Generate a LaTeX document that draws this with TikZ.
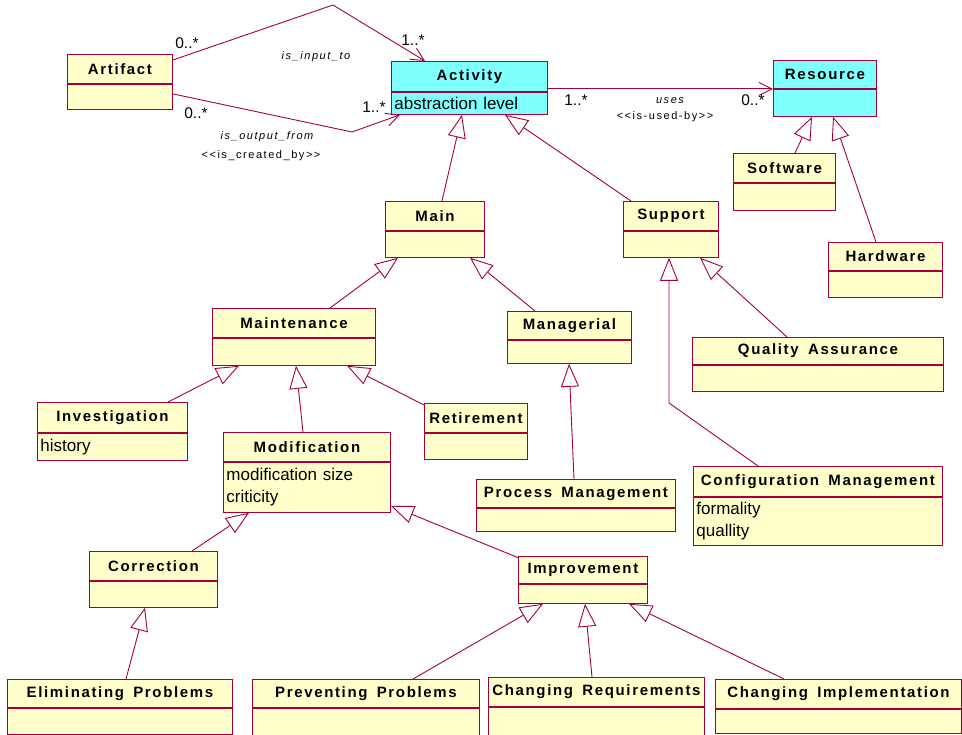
\documentclass[tikz,border=0pt]{standalone}
\usepackage{fontspec}
\setmainfont{Liberation Sans}
\newfontfamily\clsfont{Liberation Sans}[LetterSpace=11, WordSpace=1.6]
\newfontfamily\rolefont{Liberation Sans}[LetterSpace=14]
\usetikzlibrary{arrows.meta, positioning}
\definecolor{umlred}{RGB}{165, 0, 60}
\definecolor{umlyellow}{RGB}{255, 255, 204}
\definecolor{umlcyan}{RGB}{128, 255, 255}

\tikzset{
  cls/.style={draw=umlred, line width=0.9pt, fill=umlyellow, inner sep=0pt},
  ttl/.style={cls, anchor=north west, font={\clsfont\bfseries\fontsize{15}{17}\selectfont}},
  bdy/.style={cls, inner xsep=3pt, align=left, font={\fontsize{17}{21.5}\selectfont}},
  gen/.style={draw=umlred, line width=0.9pt, -{Triangle[open, length=23pt, width=18pt, fill=white]}},
  assoc/.style={draw=umlred, line width=0.9pt, -{Straight Barb[length=13pt, width=13pt]}},
  mult/.style={font={\fontsize{15.5}{18}\selectfont}},
  role/.style={font={\rolefont\fontsize{11}{13}\selectfont}},
}

\begin{document}
\begin{tikzpicture}[x=1pt, y=-1pt]
  \useasboundingbox (0,0) rectangle (962,735);

  % Klassen oben
  \node[ttl, minimum width=105, minimum height=29] (art) at (67,54) {Artifact};
  \node[bdy, below=0pt of art, minimum width=105, minimum height=25] (art-b) {};

  \node[ttl, fill=umlcyan, minimum width=156, minimum height=30] (act) at (391,61) {Activity};
  \node[bdy, fill=umlcyan, below=0pt of act, minimum width=156, minimum height=22, text width=150] (act-b) {abstraction level};

  \node[ttl, fill=umlcyan, minimum width=103, minimum height=28] (res) at (773,60) {Resource};
  \node[bdy, fill=umlcyan, below=0pt of res, minimum width=103, minimum height=27] (res-b) {};

  \node[ttl, minimum width=102, minimum height=29] (sw) at (733,153) {Software};
  \node[bdy, below=0pt of sw, minimum width=102, minimum height=27] (sw-b) {};

  \node[ttl, minimum width=114, minimum height=28] (hw) at (828,242) {Hardware};
  \node[bdy, below=0pt of hw, minimum width=114, minimum height=26] (hw-b) {};

  % Main / Support
  \node[ttl, minimum width=99, minimum height=29] (main) at (385,201) {Main};
  \node[bdy, below=0pt of main, minimum width=99, minimum height=26] (main-b) {};

  \node[ttl, minimum width=95, minimum height=29] (sup) at (623,201) {Support};
  \node[bdy, below=0pt of sup, minimum width=95, minimum height=26] (sup-b) {};

  \node[ttl, minimum width=163, minimum height=29] (mnt) at (212,308) {Maintenance};
  \node[bdy, below=0pt of mnt, minimum width=163, minimum height=27] (mnt-b) {};

  \node[ttl, minimum width=124, minimum height=28] (mgr) at (507,311) {Managerial};
  \node[bdy, below=0pt of mgr, minimum width=124, minimum height=23] (mgr-b) {};

  \node[ttl, minimum width=251, minimum height=27] (qa) at (692,337) {Quality Assurance};
  \node[bdy, below=0pt of qa, minimum width=251, minimum height=26] (qa-b) {};

  % Wartung
  \node[ttl, minimum width=150, minimum height=30] (inv) at (37,402) {Investigation};
  \node[bdy, below=0pt of inv, minimum width=150, minimum height=27, text width=144] (inv-b) {history};

  \node[ttl, minimum width=103, minimum height=29] (ret) at (424,403) {Retirement};
  \node[bdy, below=0pt of ret, minimum width=103, minimum height=26] (ret-b) {};

  \node[ttl, minimum width=167, minimum height=29] (mod) at (223,432) {Modification};
  \node[bdy, below=0pt of mod, minimum width=167, minimum height=50, text width=161] (mod-b) {modification size\\criticity};

  \node[ttl, minimum width=199, minimum height=28] (pm) at (476,479) {Process Management};
  \node[bdy, below=0pt of pm, minimum width=199, minimum height=23] (pm-b) {};

  \node[ttl, minimum width=249, minimum height=30] (cfg) at (693,466) {Configuration Management};
  \node[bdy, below=0pt of cfg, minimum width=249, minimum height=48, text width=243] (cfg-b) {formality\\quallity};

  \node[ttl, minimum width=128, minimum height=29] (cor) at (89,551) {Correction};
  \node[bdy, below=0pt of cor, minimum width=128, minimum height=26] (cor-b) {};

  \node[ttl, minimum width=129, minimum height=27] (imp) at (518,556) {Improvement};
  \node[bdy, below=0pt of imp, minimum width=129, minimum height=19] (imp-b) {};

  % unterste Reihe
  \node[ttl, minimum width=225, minimum height=28] (elim) at (7,679) {Eliminating Problems};
  \node[bdy, below=0pt of elim, minimum width=225, minimum height=26] (elim-b) {};

  \node[ttl, minimum width=227, minimum height=28] (prev) at (252,679) {Preventing Problems};
  \node[bdy, below=0pt of prev, minimum width=227, minimum height=27] (prev-b) {};

  \node[ttl, minimum width=216, minimum height=29] (creq) at (488,677) {Changing Requirements};
  \node[bdy, below=0pt of creq, minimum width=216, minimum height=28] (creq-b) {};

  \node[ttl, minimum width=246, minimum height=29] (cimp) at (715,679) {Changing Implementation};
  \node[bdy, below=0pt of cimp, minimum width=246, minimum height=24] (cimp-b) {};

  % Assoziationen
  \coordinate (inbend) at (333,5);
  \coordinate (outbend) at (352,132);
  \draw[assoc] ([yshift=-6pt]art.north east) -- (inbend) -- ([xshift=34pt]act.north west);
  \draw[assoc] ([yshift=-10pt]art-b.north east) -- (outbend) -- ([xshift=9pt]act-b.south west);
  \draw[assoc] ([yshift=3pt]act.south east) -- (res.south west);

  \node[mult] (m1) at (187,43) {0..*};
  \node[mult] (m2) at (413,40) {1..*};
  \node[mult] (m3) at (196,113) {0..*};
  \node[mult] (m4) at (374,107) {1..*};
  \node[mult] (m5) at (576,100) {1..*};
  \node[mult] (m6) at (753,100) {0..*};
  \node[role, font={\rolefont\itshape\fontsize{11}{13}\selectfont}] (r1) at (316,57) {is\_input\_to};
  \node[role, font={\rolefont\itshape\fontsize{11}{13}\selectfont}] (r2) at (267,137) {is\_output\_from};
  \node[role] (r3) at (261,156) {<{}<is\_created\_by>{}>};
  \node[role, font={\rolefont\itshape\fontsize{11}{13}\selectfont}] (r4) at (670,101) {uses};
  \node[role] (r5) at (665,117) {<{}<is-used-by>{}>};

  % Generalisierungen
  \draw[gen] ([xshift=57pt]main.north west) -- ([xshift=71pt]act-b.south west);
  \draw[gen] ([xshift=8pt]sup.north west) -- ([xshift=114pt]act-b.south west);
  \draw[gen] ([xshift=62pt]sw.north west) -- ([xshift=39pt]res-b.south west);
  \draw[gen] ([xshift=48pt]hw.north west) -- ([xshift=60pt]res-b.south west);
  \draw[gen] ([xshift=118pt]mnt.north west) -- ([xshift=13pt]main-b.south west);
  \draw[gen] ([xshift=28pt]mgr.north west) -- ([xshift=85pt]main-b.south west);
  \draw[gen] ([xshift=95pt]qa.north west) -- ([xshift=77pt]sup-b.south west);
  \coordinate (cfgbend) at (669,403);
  \draw[gen] ([xshift=65pt]cfg.north west) -- (cfgbend) -- ([xshift=46pt]sup-b.south west);
  \draw[gen] ([xshift=131pt]inv.north west) -- ([xshift=27pt]mnt-b.south west);
  \draw[gen] ([xshift=80pt]mod.north west) -- ([xshift=84pt]mnt-b.south west);
  \draw[gen] ([yshift=-2pt]ret.north west) -- ([xshift=135pt]mnt-b.south west);
  \draw[gen] ([xshift=98pt]pm.north west) -- ([xshift=62pt]mgr-b.south west);
  \draw[gen] ([xshift=103pt]cor.north west) -- ([xshift=26pt]mod-b.south west);
  \draw[gen] ([shift={(1pt,-2pt)}]imp.north west) -- ([yshift=7pt]mod-b.south east);
  \draw[gen] ([xshift=119pt]elim.north west) -- ([xshift=56pt]cor-b.south west);
  \draw[gen] ([xshift=161pt]prev.north west) -- ([xshift=25pt]imp-b.south west);
  \draw[gen] ([xshift=104pt]creq.north west) -- ([xshift=67pt]imp-b.south west);
  \draw[gen] ([xshift=69pt]cimp.north west) -- ([xshift=111pt]imp-b.south west);

\end{tikzpicture}
\end{document}
